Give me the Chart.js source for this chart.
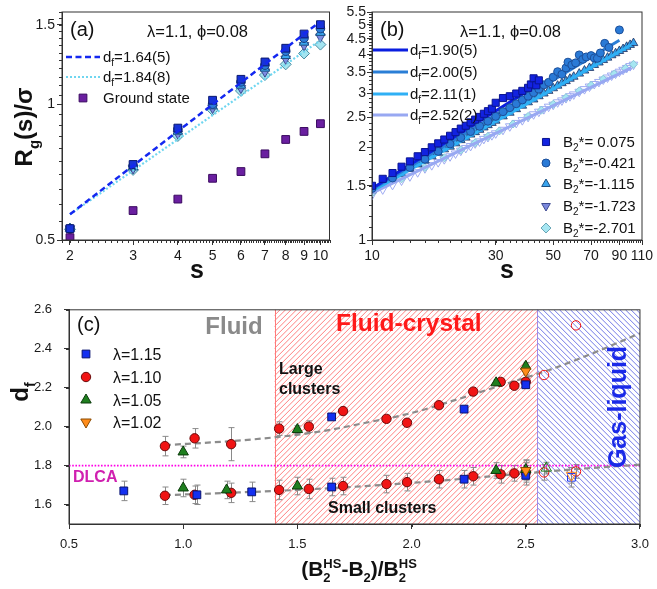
<!DOCTYPE html>
<html>
<head>
<meta charset="utf-8">
<script src="https://cdn.jsdelivr.net/npm/chart.js@4.4.0/dist/chart.umd.min.js"></script>
<style>
  html, body { margin: 0; padding: 0; background: #fff; }
  body { width: 657px; height: 589px; position: relative; overflow: hidden; }
  canvas { position: absolute; }
</style>
</head>
<body>
<canvas id="chartA" width="336" height="290" style="left:0;top:0"></canvas>
<canvas id="chartB" width="327" height="290" style="left:330px;top:0"></canvas>
<canvas id="chartC" width="657" height="299" style="left:0;top:290px"></canvas>
<script>
// ---------- panel (a): Rg(s) for small clusters ----------
const aSizes = [2, 3, 4, 5, 6, 7, 8, 9, 10];
const aB075 = [0.53, 0.735, 0.885, 1.02, 1.135, 1.24, 1.33, 1.43, 1.50];
const aB421 = [0.53, 0.73, 0.88, 1.00, 1.12, 1.22, 1.31, 1.40, 1.47];
const aB1115 = [0.53, 0.725, 0.87, 0.99, 1.10, 1.20, 1.28, 1.37, 1.44];
const aB1723 = [0.53, 0.72, 0.86, 0.98, 1.085, 1.18, 1.26, 1.35, 1.41];
const aB2701 = [0.528, 0.715, 0.85, 0.97, 1.07, 1.16, 1.225, 1.295, 1.355];
const aGround = [0.506, 0.581, 0.616, 0.685, 0.709, 0.776, 0.835, 0.870, 0.905];
const aFitS = [2, 10];
const aFit164 = [0.57, 1.525];
const aFit184 = [0.57, 1.385];
const aXTicks = [2, 3, 4, 5, 6, 7, 8, 9, 10];
const aYTicks = [0.5, 1, 1.5];

// ---------- panel (b): Rg(s) for large clusters ----------
const bSqS = [10, 11, 12, 13, 14, 15, 16, 17, 18, 19, 20, 21, 22, 23, 24, 25, 26, 27, 28, 29, 30, 32, 34, 36, 38, 40, 41, 42, 43, 44];
const bSqR = [1.50, 1.58, 1.65, 1.73, 1.80, 1.87, 1.93, 2.00, 2.06, 2.12, 2.18, 2.24, 2.30, 2.35, 2.41, 2.46, 2.51, 2.57, 2.62, 2.67, 2.79, 2.89, 2.93, 2.99, 3.05, 3.12, 3.20, 3.35, 3.18, 3.30];
const bCiS = [10, 12, 14, 16, 18, 20, 22, 24, 26, 28, 30, 32, 34, 36, 38, 40, 42, 44, 46, 48, 50, 52, 54, 56, 57, 59, 61, 63, 65, 67, 70, 72, 74, 76, 79, 82, 90];
const bCiR = [1.47, 1.59, 1.72, 1.83, 1.94, 2.05, 2.15, 2.25, 2.34, 2.43, 2.52, 2.61, 2.69, 2.77, 2.85, 2.93, 3.01, 3.09, 3.19, 3.25, 3.38, 3.52, 3.45, 3.62, 3.78, 3.70, 3.76, 3.99, 3.86, 3.93, 3.97, 3.90, 3.89, 4.05, 4.35, 4.22, 4.81];
const bTrS = [10, 11, 12, 13, 14, 15, 16, 17, 18, 19, 20, 21, 22, 23, 24, 25, 26, 27, 28, 29, 30,
  32, 34, 36, 38, 40, 42, 44, 46, 48, 50, 52, 54, 56, 58, 60,
  63, 66, 69, 72, 75, 78, 81, 84, 87, 90, 93, 96, 99, 102];
const bTuR = [1.45, 1.52, 1.58, 1.64, 1.70, 1.76, 1.81, 1.87, 1.92, 1.97, 2.01, 2.06, 2.11, 2.15, 2.20, 2.24, 2.28, 2.32, 2.36, 2.40, 2.44,
  2.52, 2.59, 2.66, 2.73, 2.80, 2.86, 2.93, 2.99, 3.05, 3.11, 3.17, 3.23, 3.28, 3.34, 3.39,
  3.47, 3.55, 3.62, 3.70, 3.77, 3.84, 3.91, 3.98, 4.04, 4.11, 4.17, 4.24, 4.30, 4.36];
const bTdR = [1.40, 1.46, 1.51, 1.56, 1.61, 1.66, 1.71, 1.75, 1.79, 1.83, 1.87, 1.91, 1.95, 1.99, 2.02, 2.06, 2.09, 2.13, 2.16, 2.19, 2.22,
  2.28, 2.34, 2.40, 2.45, 2.51, 2.56, 2.61, 2.66, 2.71, 2.75, 2.80, 2.84, 2.89, 2.93, 2.97,
  3.03, 3.09, 3.15, 3.21, 3.26, 3.32, 3.37, 3.42, 3.47, 3.52, 3.57, 3.62, 3.67, 3.71];
const bDiS = [10, 13, 16, 19, 22, 25, 28, 31, 35, 40, 45, 50, 56, 63, 70, 78, 86, 95, 102];
const bDiR = [1.42, 1.58, 1.72, 1.85, 1.96, 2.07, 2.17, 2.26, 2.38, 2.52, 2.64, 2.76, 2.90, 3.05, 3.18, 3.33, 3.46, 3.61, 3.72];
const bFit190S = [10, 45], bFit190 = [1.47, 3.25];
const bFit200S = [10, 90], bFit200 = [1.46, 4.45];
const bFit211S = [10, 100], bFit211 = [1.44, 4.30];
const bFit252S = [10, 100], bFit252 = [1.42, 3.62];
const bXTicks = [10, 30, 50, 70, 90, 110];
const bYTicks = [1, 1.5, 2, 2.5, 3, 3.5, 4, 4.5, 5, 5.5];

// ---------- panel (c): fractal dimension ----------
const c115X = [0.74, 1.06, 1.30, 1.65, 2.23, 2.50];
const c115Small = [1.67, 1.65, 1.665, 1.69, 1.73, 1.75];
const c115SmallErr = [0.05, 0.05, 0.05, 0.045, 0.045, 0.05];
const c115LargeX = [1.65, 2.23, 2.50];
const c115Large = [2.05, 2.09, 2.215];
const c115LargeErr = [0.015, 0.015, 0.015];
const c115OpenX = [2.70], c115Open = [1.74], c115OpenErr = [0.05];

const c110X = [0.92, 1.05, 1.21, 1.42, 1.55, 1.70, 1.89, 1.98, 2.12, 2.27, 2.39, 2.45, 2.50];
const c110Large = [1.90, 1.94, 1.91, 1.99, 2.00, 2.08, 2.04, 2.02, 2.11, 2.18, 2.23, 2.21, 2.23];
const c110LargeErr = [0.05, 0.05, 0.085, 0.035, 0.03, 0.015, 0.015, 0.015, 0.015, 0.015, 0.015, 0.015, 0.02];
const c110Small = [1.645, 1.65, 1.66, 1.675, 1.68, 1.695, 1.705, 1.715, 1.73, 1.745, 1.755, 1.76, 1.765];
const c110SmallErr = [0.045, 0.045, 0.05, 0.05, 0.05, 0.045, 0.045, 0.045, 0.045, 0.045, 0.045, 0.04, 0.05];
const c110OpenX = [2.58, 2.72];
const c110OpenLarge = [2.265, 2.52];
const c110OpenSmall = [1.765, 1.77];
const c110OpenSmallErr = [0.04, 0.035];

const c105LargeX = [1.00, 1.50, 2.37, 2.50];
const c105Large = [1.87, 1.985, 2.225, 2.31];
const c105LargeErr = [0.03, 0.02, 0.015, 0.02];
const c105SmallX = [1.00, 1.19, 1.50, 2.37, 2.50];
const c105Small = [1.685, 1.675, 1.695, 1.775, 1.78];
const c105SmallErr = [0.045, 0.045, 0.045, 0.04, 0.05];
const c105OpenX = [2.59], c105Open = [1.787], c105OpenErr = [0.03];

const c102X = [2.50];
const c102Large = [2.285], c102LargeErr = [0.02];
const c102Small = [1.775], c102SmallErr = [0.05];
const c102OpenX = [2.70], c102Open = [1.75], c102OpenErr = [0.04];

const cFitLargeX = [0.92, 1.2, 1.4, 1.6, 1.8, 2.0, 2.2, 2.4, 2.6, 2.8, 3.0];
const cFitLargeY = [1.905, 1.925, 1.945, 1.975, 2.02, 2.07, 2.14, 2.215, 2.29, 2.38, 2.48];
const cFitSmallX = [0.92, 1.2, 1.5, 1.8, 2.1, 2.4, 2.7, 3.0];
const cFitSmallY = [1.648, 1.66, 1.675, 1.695, 1.72, 1.75, 1.78, 1.805];
const dlcaX = [0.5, 3.0], dlcaY = [1.8, 1.8];
const fluidCrystal = [1.4, 2.55];
const gasLiquid = [2.55, 3.0];
const cXTicks = [0.5, 1.0, 1.5, 2.0, 2.5, 3.0];
const cYTicks = [1.6, 1.8, 2.0, 2.2, 2.4, 2.6];

// ---------- helpers ----------
const FONT = "'Liberation Sans', Arial, sans-serif";
Chart.defaults.font.family = FONT;
Chart.defaults.color = '#1a1a1a';

const pts = (xs, ys) => xs.map((x, i) => ({ x: x, y: ys[i] }));

function axis(o) {
  return {
    type: o.type, min: o.min, max: o.max,
    afterBuildTicks: s => { s.ticks = o.ticks.map(v => ({ value: v })); },
    afterFit: s => { s[o.fit] = o.size; },
    ticks: { autoSkip: false, maxRotation: 0, font: { size: o.font }, color: '#1a1a1a', padding: o.pad, callback: o.fmt },
    grid: { drawOnChartArea: false, drawTicks: true, tickLength: 5, color: '#333', lineWidth: 1 },
    border: { color: '#333', width: 1 }
  };
}

// text with sub/superscripts; parts = [text, 'n'|'sub'|'sup', 'stack'?]
function rich(ctx, x, y, parts, size, o) {
  o = o || {};
  const wt = o.bold ? 'bold ' : '';
  const small = Math.round(size * 0.64);
  const setF = p => { ctx.font = wt + (p[1] === 'n' ? size : small) + 'px ' + FONT; };
  let w = 0, stackW = 0;
  const offs = [];
  parts.forEach(p => {
    setF(p);
    const pw = ctx.measureText(p[0]).width;
    offs.push(w);
    if (p[2] === 'stack') { stackW = pw; }
    else { w += Math.max(pw, stackW); stackW = 0; }
  });
  const x0 = o.align === 'center' ? x - w / 2 : (o.align === 'right' ? x - w : x);
  ctx.fillStyle = o.color || '#111';
  ctx.textAlign = 'left';
  ctx.textBaseline = 'alphabetic';
  parts.forEach((p, i) => {
    setF(p);
    const dy = p[1] === 'sub' ? size * 0.28 : (p[1] === 'sup' ? -size * 0.4 : 0);
    ctx.fillText(p[0], x0 + offs[i], y + dy);
  });
  return w;
}

function richRot(ctx, x, y, parts, size, o) {
  ctx.save();
  ctx.translate(x, y);
  ctx.rotate(-Math.PI / 2);
  rich(ctx, 0, 0, parts, size, Object.assign({ align: 'center' }, o));
  ctx.restore();
}

function marker(ctx, style, x, y, r, fill, stroke, rot) {
  ctx.save();
  ctx.fillStyle = fill;
  ctx.strokeStyle = stroke;
  ctx.lineWidth = 1;
  Chart.helpers.drawPoint(ctx, { pointStyle: style, rotation: rot || 0, radius: r, borderWidth: 1 }, x, y);
  ctx.restore();
}

function lineSwatch(ctx, x1, x2, y, color, width, dash) {
  ctx.save();
  ctx.strokeStyle = color;
  ctx.lineWidth = width;
  ctx.setLineDash(dash || []);
  ctx.beginPath(); ctx.moveTo(x1, y); ctx.lineTo(x2, y); ctx.stroke();
  ctx.restore();
}

// minor ticks outside the axes + the frame
function frame(xMinor, yMinor) {
  return {
    id: 'frame',
    afterDraw(chart) {
      const { ctx, chartArea: a, scales: { x, y } } = chart;
      ctx.save();
      ctx.strokeStyle = '#333';
      ctx.lineWidth = 1;
      ctx.beginPath();
      xMinor.forEach(v => {
        const px = Math.round(x.getPixelForValue(v)) + 0.5;
        ctx.moveTo(px, a.bottom); ctx.lineTo(px, a.bottom + 3);
      });
      yMinor.forEach(v => {
        const py = Math.round(y.getPixelForValue(v)) + 0.5;
        ctx.moveTo(a.left, py); ctx.lineTo(a.left - 3, py);
      });
      ctx.stroke();
      ctx.strokeRect(a.left, a.top, a.right - a.left, a.bottom - a.top);
      ctx.restore();
    }
  };
}

const range = (from, to, step) => {
  const out = [];
  for (let k = Math.round(from / step); k <= Math.round(to / step); k++) out.push(+(k * step).toFixed(4));
  return out;
};

const baseOpts = (pad) => ({
  responsive: false, animation: false, devicePixelRatio: 1, events: [],
  layout: { padding: pad },
  plugins: { legend: { display: false }, tooltip: { enabled: false } }
});

const scatterPts = (data, style, r, fill, stroke, extra) => Object.assign({
  data: data, showLine: false, pointStyle: style, pointRadius: r,
  pointBackgroundColor: fill, pointBorderColor: stroke, pointBorderWidth: 1
}, extra || {});

const fitLine = (data, color, width, dash, extra) => Object.assign({
  data: data, showLine: true, pointRadius: 0, borderColor: color, borderWidth: width,
  borderDash: dash || [], fill: false
}, extra || {});

const fmtNum = v => String(+v.toFixed(2));

// ---------- chart (a) ----------
const colA = { sq: '#1733d8', ci: '#2c7bd8', tu: '#3ba6ef', td: '#7d8ce2', di: '#a3e4f0', gr: '#6a1fa0' };

new Chart(document.getElementById('chartA'), {
  type: 'scatter',
  data: {
    datasets: [
      fitLine(pts(aFitS, aFit164), '#1428f0', 2.5, [6, 3.5]),
      fitLine(pts(aFitS, aFit184), '#6fd6f0', 2.2, [2, 2]),
      scatterPts(pts(aSizes, aGround), 'rect', 5.5, colA.gr, '#3a0a60'),
      scatterPts(pts(aSizes, aB075), 'rect', 5.5, colA.sq, '#0b1a70'),
      scatterPts(pts(aSizes, aB421), 'circle', 4.3, colA.ci, '#173f80'),
      scatterPts(pts(aSizes, aB1115), 'triangle', 5.5, colA.tu, '#1d4f80'),
      scatterPts(pts(aSizes, aB1723), 'triangle', 5.5, colA.td, '#3d4a90', { pointRotation: 180 }),
      scatterPts(pts(aSizes, aB2701), 'rectRot', 5.5, colA.di, '#4a8aa0')
    ]
  },
  options: Object.assign(baseOpts({ left: 0, top: 12, right: 4, bottom: 0 }), {
    scales: {
      x: axis({ type: 'logarithmic', min: 1.9, max: 10.6, ticks: aXTicks, fit: 'height', size: 50, font: 14, pad: 3, fmt: fmtNum }),
      y: axis({ type: 'logarithmic', min: 0.5, max: 1.6, ticks: aYTicks, fit: 'width', size: 62, font: 14, pad: 2, fmt: fmtNum })
    }
  }),
  plugins: [frame(range(1.9, 10.6, 0.1), range(0.5, 1.6, 0.05)), {
    id: 'annotA',
    afterDraw(chart) {
      const ctx = chart.ctx;
      rich(ctx, 70, 36, [['(a)', 'n']], 20);
      rich(ctx, 147, 37, [['λ=1.1, ϕ=0.08', 'n']], 16.5);
      lineSwatch(ctx, 66, 100, 57, '#1428f0', 2.5, [6, 3.5]);
      rich(ctx, 103, 62, [['d', 'n'], ['f', 'sub'], ['=1.64(5)', 'n']], 15);
      lineSwatch(ctx, 66, 100, 77, '#6fd6f0', 2.2, [2, 2]);
      rich(ctx, 103, 82, [['d', 'n'], ['f', 'sub'], ['=1.84(8)', 'n']], 15);
      marker(ctx, 'rect', 83, 98, 5.5, colA.gr, '#3a0a60');
      rich(ctx, 103, 103, [['Ground state', 'n']], 15);
      rich(ctx, 197, 278, [['s', 'n']], 25, { bold: true, align: 'center' });
      richRot(ctx, 32, 127, [['R', 'n'], ['g', 'sub'], ['(s)/σ', 'n']], 24, { bold: true });
    }
  }]
});

// ---------- chart (b) ----------
const colB = { sq: '#1222e0', ci: '#2a7ad6', tu: '#38a4ee', td: '#9eaaf2', di: '#a6e6f2' };
const fitCol = { f190: '#0a1ee0', f200: '#2a7ed6', f211: '#2fb0f5', f252: '#98a8f2' };

new Chart(document.getElementById('chartB'), {
  type: 'scatter',
  data: {
    datasets: [
      scatterPts(pts(bSqS, bSqR), 'rect', 5, colB.sq, '#0a1490'),
      scatterPts(pts(bCiS, bCiR), 'circle', 4, colB.ci, '#1c4f9a'),
      fitLine(pts(bFit190S, bFit190), fitCol.f190, 3),
      fitLine(pts(bFit200S, bFit200), fitCol.f200, 3),
      fitLine(pts(bFit211S, bFit211), fitCol.f211, 3),
      fitLine(pts(bFit252S, bFit252), fitCol.f252, 3),
      scatterPts(pts(bTrS, bTuR), 'triangle', 5, colB.tu, '#1c2c5c', { pointBorderWidth: 0.8 }),
      scatterPts(pts(bDiS, bDiR), 'rectRot', 4, colB.di, '#8ac6d6'),
      scatterPts(pts(bTrS, bTdR), 'triangle', 5, 'rgba(255,255,255,0)', colB.td, { pointRotation: 180 })
    ]
  },
  options: Object.assign(baseOpts({ left: 0, top: 12, right: 15, bottom: 0 }), {
    scales: {
      x: axis({ type: 'logarithmic', min: 10, max: 110, ticks: bXTicks, fit: 'height', size: 50, font: 14, pad: 3, fmt: fmtNum }),
      y: axis({ type: 'logarithmic', min: 1, max: 5.5, ticks: bYTicks, fit: 'width', size: 42, font: 14, pad: 1, fmt: fmtNum })
    }
  }),
  plugins: [frame(range(10, 110, 2), range(1, 5.5, 0.1)), {
    id: 'annotB',
    afterDraw(chart) {
      const ctx = chart.ctx;
      rich(ctx, 50, 36, [['(b)', 'n']], 20);
      rich(ctx, 130, 37, [['λ=1.1, ϕ=0.08', 'n']], 16.5);
      const lines = [['1.90(5)', fitCol.f190], ['2.00(5)', fitCol.f200], ['2.11(1)', fitCol.f211], ['2.52(2)', fitCol.f252]];
      const rowsL = [50, 72, 94, 115];
      lines.forEach((l, i) => {
        lineSwatch(ctx, 43, 78, rowsL[i], l[1], 3);
        rich(ctx, 80, rowsL[i] + 5, [['d', 'n'], ['f', 'sub'], ['=' + l[0], 'n']], 15);
      });
      const marks = [
        ['rect', colB.sq, '#0a1490', 0, '= 0.075'],
        ['circle', colB.ci, '#1c4f9a', 0, '=-0.421'],
        ['triangle', colB.tu, '#1c4f80', 0, '=-1.115'],
        ['triangle', '#7b88dc', '#3d4a90', 180, '=-1.723'],
        ['rectRot', colB.di, '#6aa6b6', 0, '=-2.701']
      ];
      const rowsM = [142, 163, 184, 206, 228];
      marks.forEach((m, i) => {
        marker(ctx, m[0], 216, rowsM[i], m[0] === 'circle' ? 4 : 5, m[1], m[2], m[3]);
        rich(ctx, 233, rowsM[i] + 5, [['B', 'n'], ['2', 'sub'], ['*' + m[4], 'n']], 15);
      });
      rich(ctx, 177, 278, [['s', 'n']], 25, { bold: true, align: 'center' });
    }
  }]
});

// ---------- chart (c) ----------
const colC = {
  b: ['#1430f0', '#0a1470'], r: ['#f01414', '#6a0a0a'],
  g: ['#1f7f1f', '#0a3a0a'], o: ['#ff8c1a', '#8a4a00']
};
const open = 'rgba(255,255,255,0)';

const hatch = {
  id: 'hatch',
  beforeDatasetsDraw(chart) {
    const { ctx, chartArea: a, scales: { x } } = chart;
    const h = a.bottom - a.top;
    const paint = (r, color, dir, width) => {
      const x1 = x.getPixelForValue(r[0]), x2 = x.getPixelForValue(r[1]);
      ctx.save();
      ctx.beginPath(); ctx.rect(x1, a.top, x2 - x1, h); ctx.clip();
      ctx.strokeStyle = color; ctx.lineWidth = width;
      ctx.beginPath();
      for (let k = x1 - h; k < x2 + h; k += 5.5) {
        if (dir > 0) { ctx.moveTo(k, a.bottom); ctx.lineTo(k + h, a.top); }
        else { ctx.moveTo(k, a.top); ctx.lineTo(k + h, a.bottom); }
      }
      ctx.stroke();
      ctx.restore();
    };
    paint(fluidCrystal, 'rgba(255,80,80,0.8)', 1, 0.9);
    paint(gasLiquid, 'rgba(60,70,220,0.8)', -1, 0.9);
    ctx.save();
    ctx.lineWidth = 1;
    ctx.strokeStyle = '#ff7a7a';
    let px = Math.round(x.getPixelForValue(fluidCrystal[0])) + 0.5;
    ctx.beginPath(); ctx.moveTo(px, a.top); ctx.lineTo(px, a.bottom); ctx.stroke();
    ctx.strokeStyle = '#a08ae8';
    px = Math.round(x.getPixelForValue(gasLiquid[0])) + 0.5;
    ctx.beginPath(); ctx.moveTo(px, a.top); ctx.lineTo(px, a.bottom); ctx.stroke();
    ctx.restore();
  }
};

const errorBars = {
  id: 'errorBars',
  beforeDatasetsDraw(chart) {
    const { ctx, scales: { y } } = chart;
    chart.data.datasets.forEach((ds, i) => {
      if (!ds.errors) return;
      const meta = chart.getDatasetMeta(i);
      ctx.save();
      ctx.strokeStyle = '#8a8a8a';
      ctx.lineWidth = 1;
      ctx.beginPath();
      meta.data.forEach((pt, j) => {
        const e = ds.errors[j];
        if (!e) return;
        const v = ds.data[j].y;
        const t = y.getPixelForValue(v + e), b = y.getPixelForValue(v - e);
        const px = Math.round(pt.x) + 0.5;
        ctx.moveTo(px, t); ctx.lineTo(px, b);
        ctx.moveTo(px - 3, t); ctx.lineTo(px + 3, t);
        ctx.moveTo(px - 3, b); ctx.lineTo(px + 3, b);
      });
      ctx.stroke();
      ctx.restore();
    });
  }
};

new Chart(document.getElementById('chartC'), {
  type: 'scatter',
  data: {
    datasets: [
      scatterPts(pts(c102X, c102Large).concat(pts(c102X, c102Small)), 'triangle', 6, colC.o[0], colC.o[1],
        { pointRotation: 180, errors: c102LargeErr.concat(c102SmallErr) }),
      scatterPts(pts(c102OpenX, c102Open), 'triangle', 6, open, colC.o[0], { pointRotation: 180, errors: c102OpenErr }),
      scatterPts(pts(c105LargeX, c105Large).concat(pts(c105SmallX, c105Small)), 'triangle', 6, colC.g[0], colC.g[1],
        { errors: c105LargeErr.concat(c105SmallErr) }),
      scatterPts(pts(c105OpenX, c105Open), 'triangle', 6, open, colC.g[0], { errors: c105OpenErr }),
      scatterPts(pts(c115LargeX, c115Large).concat(pts(c115X, c115Small)), 'rect', 5.5, colC.b[0], colC.b[1],
        { errors: c115LargeErr.concat(c115SmallErr) }),
      scatterPts(pts(c115OpenX, c115Open), 'rect', 5.5, open, colC.b[0], { errors: c115OpenErr }),
      scatterPts(pts(c110X, c110Large).concat(pts(c110X, c110Small)), 'circle', 4.7, colC.r[0], colC.r[1],
        { errors: c110LargeErr.concat(c110SmallErr) }),
      scatterPts(pts(c110OpenX, c110OpenLarge).concat(pts(c110OpenX, c110OpenSmall)), 'circle', 4.7, open, colC.r[0],
        { errors: [0, 0].concat(c110OpenSmallErr) }),
      fitLine(pts(cFitLargeX, cFitLargeY), '#8c8c8c', 2.2, [6, 4], { tension: 0.4, cubicInterpolationMode: 'monotone' }),
      fitLine(pts(cFitSmallX, cFitSmallY), '#8c8c8c', 2.2, [6, 4], { tension: 0.4, cubicInterpolationMode: 'monotone' }),
      fitLine(pts(dlcaX, dlcaY), '#ff00e6', 1.6, [1.6, 1.6])
    ]
  },
  options: Object.assign(baseOpts({ left: 0, top: 16, right: 10, bottom: 0 }), {
    scales: {
      x: axis({ type: 'linear', min: 0.5, max: 3.0, ticks: cXTicks, fit: 'height', size: 65, font: 13, pad: 8, fmt: v => v.toFixed(1) }),
      y: axis({ type: 'linear', min: 1.5, max: 2.6, ticks: cYTicks, fit: 'width', size: 69, font: 13, pad: 12, fmt: v => v.toFixed(1) })
    }
  }),
  plugins: [hatch, errorBars, frame(range(0.75, 2.75, 0.5), range(1.5, 2.5, 0.2)), {
    id: 'annotC',
    afterDraw(chart) {
      const ctx = chart.ctx;
      rich(ctx, 77, 41, [['(c)', 'n']], 20);
      rich(ctx, 234, 44, [['Fluid', 'n']], 24, { bold: true, align: 'center', color: '#8a8a8a' });
      rich(ctx, 336, 41, [['Fluid-crystal', 'n']], 24.5, { bold: true, color: '#ff1a1a' });
      richRot(ctx, 626, 117, [['Gas-liquid', 'n']], 25, { bold: true, color: '#1a2ae8' });
      rich(ctx, 279, 84, [['Large', 'n']], 16, { bold: true });
      rich(ctx, 279, 104, [['clusters', 'n']], 16, { bold: true });
      rich(ctx, 328, 223, [['Small clusters', 'n']], 16, { bold: true });
      rich(ctx, 73, 192, [['DLCA', 'n']], 16, { bold: true, color: '#d020b0' });
      const leg = [
        ['rect', 5.5, colC.b, 0, 'λ=1.15'],
        ['circle', 4.7, colC.r, 0, 'λ=1.10'],
        ['triangle', 6, colC.g, 0, 'λ=1.05'],
        ['triangle', 6, colC.o, 180, 'λ=1.02']
      ];
      const rows = [64, 87, 110, 132];
      leg.forEach((l, i) => {
        marker(ctx, l[0], 86, rows[i], l[1], l[2][0], l[2][1], l[3]);
        rich(ctx, 113, rows[i] + 6, [[l[4], 'n']], 16);
      });
      richRot(ctx, 28, 102, [['d', 'n'], ['f', 'sub']], 24, { bold: true });
      rich(ctx, 359, 286, [['(B', 'n'], ['2', 'sub', 'stack'], ['HS', 'sup'], ['-B', 'n'], ['2', 'sub'], [')/B', 'n'],
        ['2', 'sub', 'stack'], ['HS', 'sup']], 21, { bold: true, align: 'center' });
    }
  }]
});
</script>
</body>
</html>
